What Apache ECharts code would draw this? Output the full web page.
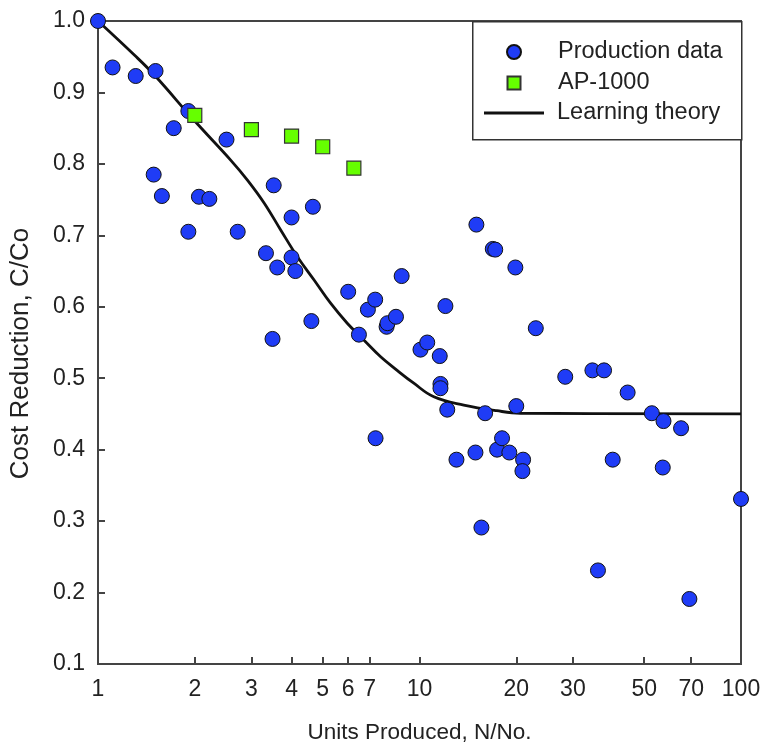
<!DOCTYPE html>
<html>
<head>
<meta charset="utf-8">
<script src="https://cdn.jsdelivr.net/npm/echarts@6/dist/echarts.min.js"></script>
<style>html,body{margin:0;padding:0;background:#fff}#c{width:765px;height:749px}</style>
</head>
<body>
<div id="c"></div>
<script>
// Production data (Units produced N/No., cost ratio C/Co)
var prodX = [1.0, 1.11, 1.31, 1.51, 1.49, 1.58, 1.72, 1.91, 1.91, 2.06, 2.22, 2.51, 2.72, 3.33, 3.52, 3.61, 3.49, 4.0, 4.0, 4.11, 4.66, 4.61, 6.0, 6.48, 6.91, 7.28, 7.30, 7.9, 7.95, 8.45, 8.8, 10.07, 10.57, 11.56, 11.62, 11.62, 12.04, 12.2, 13.03, 14.93, 15.03, 15.58, 16.0, 16.9, 17.2, 17.43, 18.06, 19.03, 19.87, 20.0, 21.0, 20.9, 23.0, 28.4, 34.5, 37.5, 35.9, 39.9, 44.4, 52.8, 57.4, 57.1, 65.1, 69.1, 100];
var prodY = [1.0, 0.935, 0.923, 0.930, 0.785, 0.755, 0.850, 0.874, 0.705, 0.754, 0.751, 0.834, 0.705, 0.675, 0.770, 0.655, 0.555, 0.725, 0.669, 0.650, 0.740, 0.580, 0.621, 0.561, 0.596, 0.610, 0.416, 0.572, 0.577, 0.586, 0.643, 0.540, 0.550, 0.531, 0.492, 0.486, 0.601, 0.456, 0.386, 0.396, 0.715, 0.291, 0.451, 0.681, 0.680, 0.400, 0.416, 0.396, 0.655, 0.461, 0.386, 0.370, 0.570, 0.502, 0.511, 0.511, 0.231, 0.386, 0.480, 0.451, 0.440, 0.375, 0.430, 0.191, 0.331];
// AP-1000
var apX = [2, 3, 4, 5, 6.25];
var apY = [0.868, 0.848, 0.839, 0.824, 0.794];
// Learning theory curve
var curveX = [1, 1.3, 1.5, 1.99, 2.59, 2.92, 3.29, 3.70, 4.17, 4.70, 5.29, 5.96, 6.71, 7.57, 8.52, 9.6, 11.08, 13.73, 17.4, 20.6, 100];
var curveY = [1.0, 0.952, 0.924, 0.861, 0.805, 0.777, 0.745, 0.7075, 0.670, 0.6375, 0.605, 0.577, 0.5535, 0.530, 0.511, 0.493, 0.474, 0.4625, 0.4545, 0.451, 0.45];
// Axis ticks
var xLabelValues = [1, 2, 3, 4, 5, 6, 7, 10, 20, 30, 50, 70, 100];
var xTickValues = [2, 3, 4, 5, 6, 7, 10, 20, 30, 50, 70];

function zip(a, b) { return a.map(function (v, i) { return [v, b[i]]; }); }

var FONT = '"Liberation Sans", Arial, sans-serif';
var TXT = '#222';
var LEG_FS = 23.5;
function legendText(padLeft) {
  return { fontSize: LEG_FS, lineHeight: 22, color: TXT, fontFamily: FONT, padding: [0, 0, 0, padLeft] };
}
var chart = echarts.init(document.getElementById('c'), null, { renderer: 'canvas' });
chart.setOption({
  animation: false,
  backgroundColor: '#fff',
  textStyle: { fontFamily: FONT },
  grid: { left: 97, right: 24, top: 21, bottom: 85, show: true, borderColor: '#444', borderWidth: 2, backgroundColor: 'transparent' },
  graphic: [{
    type: 'rect', z: 10, left: 472, top: 21,
    shape: { width: 269, height: 118 },
    style: { fill: '#fff', stroke: '#333', lineWidth: 1.5 }
  }],
  legend: [
    {
      z: 20, orient: 'vertical', left: 506, top: 40, padding: 0, selectedMode: false,
      itemWidth: 14, itemHeight: 14, textStyle: legendText(32),
      data: [{ name: 'Production data', icon: 'circle' }]
    },
    {
      z: 20, orient: 'vertical', left: 506.5, top: 71, padding: 0, selectedMode: false,
      itemWidth: 13, itemHeight: 13, textStyle: legendText(32.5),
      data: [{ name: 'AP-1000', icon: 'rect' }]
    },
    {
      z: 20, orient: 'vertical', left: 484, top: 101, padding: 0, selectedMode: false,
      itemWidth: 60, itemHeight: 3, textStyle: legendText(8),
      data: [{ name: 'Learning theory', icon: 'path://M0,0H60V3H0Z' }]
    }
  ],
  xAxis: {
    type: 'log', logBase: 10, min: 1, max: 100,
    name: 'Units Produced, N/No.', nameLocation: 'middle', nameGap: 57,
    nameTextStyle: { fontSize: 22.5, color: TXT, fontFamily: FONT },
    axisLine: { lineStyle: { color: '#444', width: 2 } },
    axisTick: { inside: true, length: 7, lineStyle: { color: '#444', width: 2 }, customValues: xTickValues },
    axisLabel: { fontSize: 23, color: TXT, margin: 14, customValues: xLabelValues, fontFamily: FONT },
    minorTick: { show: false },
    splitLine: { show: false }
  },
  yAxis: {
    type: 'value', min: 0.1, max: 1.0, interval: 0.1,
    name: 'Cost Reduction, C/Co', nameLocation: 'middle', nameGap: 64,
    nameTextStyle: { fontSize: 26, color: TXT, fontFamily: FONT, padding: [0, 22, 0, 0] },
    axisLine: { show: true, lineStyle: { color: '#444', width: 2 } },
    axisTick: { show: true, inside: true, length: 7, lineStyle: { color: '#444', width: 2 } },
    axisLabel: { fontSize: 23, color: TXT, margin: 13, fontFamily: FONT, formatter: function (v) { return v.toFixed(1); } },
    splitLine: { show: false }
  },
  series: [
    {
      name: 'Learning theory', type: 'line', data: zip(curveX, curveY),
      smooth: 0.4, showSymbol: false, symbol: 'none', z: 2,
      lineStyle: { color: '#111', width: 2.8 }, itemStyle: { color: '#111' }
    },
    {
      name: 'Production data', type: 'scatter', data: zip(prodX, prodY),
      symbol: 'circle', symbolSize: 15, z: 3,
      itemStyle: { color: '#1f3cf6', borderColor: '#111', borderWidth: 1, opacity: 1 }
    },
    {
      name: 'AP-1000', type: 'scatter', data: zip(apX, apY),
      symbol: 'rect', symbolSize: 14, z: 3,
      itemStyle: { color: '#66ff00', borderColor: '#333', borderWidth: 1.2, opacity: 1 }
    }
  ]
});
</script>
</body>
</html>
